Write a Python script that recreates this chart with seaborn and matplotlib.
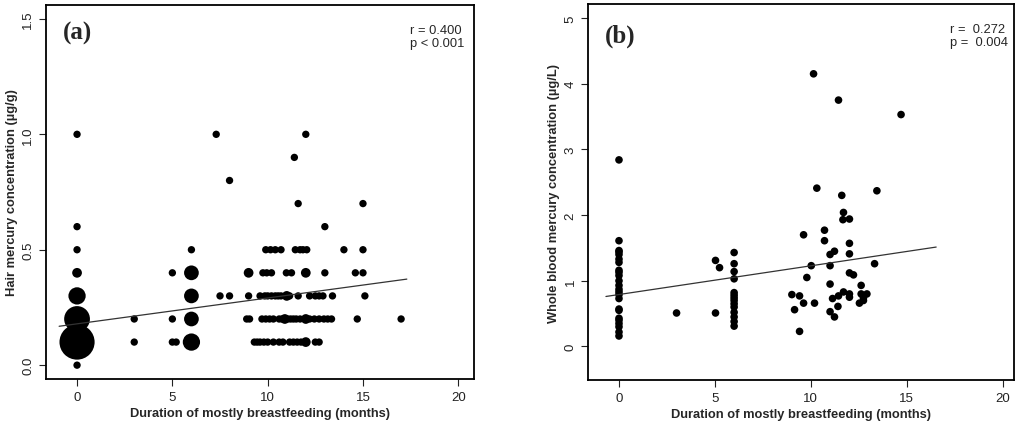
import numpy as np
import pandas as pd
import matplotlib
matplotlib.use("Agg")
import matplotlib.pyplot as plt
import seaborn as sns

# panel (a): hair mercury, bubble size = number of children at that point
hair_months = [0, 7.3, 12.0,
               11.4,
               8.0,
               11.6, 15.0,
               0, 13.0,
               0, 6, 9.9, 10.15, 10.4, 10.7, 11.45, 11.7, 11.85, 12.05, 14.0, 15.0,
               0, 5, 6, 9.0, 9.75, 9.95, 10.2, 10.98, 11.25, 12.0, 13.0, 14.6, 15.0,
               0, 6, 7.5, 8.0, 9.0, 9.6, 9.85, 10.0, 10.2, 10.4, 10.55, 10.7, 11.0,
               11.15, 11.6, 12.2, 12.5, 12.7, 12.9, 13.4, 15.1,
               0, 3, 5, 6, 8.9, 9.05, 9.7, 9.9, 10.1, 10.3, 10.6, 10.75, 10.9, 11.05,
               11.2, 11.35, 11.5, 11.7, 12.0, 12.2, 12.45, 12.7, 12.95, 13.15, 13.35,
               14.7, 17.0,
               0, 3, 5.0, 5.2, 6, 9.3, 9.45, 9.6, 9.8, 10.0, 10.3, 10.6, 10.8, 11.15,
               11.35, 11.55, 11.75, 12.0, 12.5, 12.7,
               0]
hair_hg = ([1.0] * 3 + [0.9] + [0.8] + [0.7] * 2 + [0.6] * 2 + [0.5] * 12
           + [0.4] * 13 + [0.3] * 21 + [0.2] * 27 + [0.1] * 20 + [0.0])
hair_count = [1, 1, 1,
              1,
              1,
              1, 1,
              1, 1,
              1, 1, 1, 1, 1, 1, 1, 1, 1, 1, 1, 1,
              2, 1, 5, 2, 1, 1, 1, 1, 1, 2, 1, 1, 1,
              7, 5, 1, 1, 1, 1, 1, 1, 1, 1, 1, 1, 2, 1, 1, 1, 1, 1, 1, 1, 1,
              16, 1, 1, 5, 1, 1, 1, 1, 1, 1, 1, 1, 2, 1, 1, 1, 1, 1, 2, 1, 1,
              1, 1, 1, 1, 1, 1,
              30, 1, 1, 1, 7, 1, 1, 1, 1, 1, 1, 1, 1, 1, 1, 1, 1, 2, 1, 1,
              1]

# panel (b): whole blood mercury
blood_months = ([0] * 24 + [3, 5.03, 5.24, 5.03] + [6] * 14 +
                [10.14, 11.44, 14.70, 10.31, 13.44, 11.61, 11.70, 11.67, 12.01,
                 10.71, 9.62, 10.71, 12.01, 11.23, 11.0, 12.01, 10.02, 11.0, 13.32,
                 12.01, 12.22, 9.79, 11.0, 12.62, 9.01, 9.41, 11.70, 11.44, 12.01,
                 12.01, 12.62, 12.92, 12.74, 11.13, 9.62, 10.19, 12.53, 12.74, 9.15,
                 11.41, 11.0, 11.23, 9.41])
blood_hg = ([2.84, 1.61, 1.46, 1.44, 1.40, 1.33, 1.28, 1.16, 1.13, 1.08, 1.00, 0.93,
             0.87, 0.83, 0.79, 0.73, 0.57, 0.55, 0.43, 0.40, 0.35, 0.30, 0.22, 0.16]
            + [0.51, 1.31, 1.20, 0.51]
            + [1.43, 1.26, 1.14, 1.03, 0.82, 0.78, 0.74, 0.70, 0.65, 0.60, 0.52, 0.45,
               0.38, 0.31]
            + [4.15, 3.75, 3.53, 2.41, 2.37, 2.30, 2.04, 1.93, 1.94, 1.77, 1.70, 1.61,
               1.57, 1.45, 1.40, 1.41, 1.23, 1.23, 1.26, 1.12, 1.09, 1.05, 0.95, 0.93,
               0.79, 0.77, 0.83, 0.77, 0.80, 0.75, 0.80, 0.80, 0.74, 0.73, 0.66, 0.66,
               0.66, 0.70, 0.56, 0.61, 0.53, 0.45, 0.23])

# fitted lines: intercept, slope, x range
fit_a = (0.179, 0.0112, -0.94, 17.3)
fit_b = (0.791, 0.0437, -0.68, 16.53)

stats_a = "r = 0.400\np < 0.001"
stats_b = "r =  0.272\np =  0.004"
xlab = "Duration of mostly breastfeeding (months)"

sns.set_style("ticks")
plt.rcParams["font.family"] = ["Liberation Sans", "DejaVu Sans"]

df_a = pd.DataFrame({"m": hair_months, "hg": hair_hg, "n": hair_count})
df_b = pd.DataFrame({"m": blood_months, "hg": blood_hg})

fig = plt.figure(figsize=(10.24, 4.31), dpi=100)
ax1 = fig.add_axes([0.0449, 0.1183, 0.4181, 0.8677])
ax2 = fig.add_axes([0.5745, 0.116, 0.416, 0.872])

sns.scatterplot(data=df_a, x="m", y="hg", size="n", sizes=(28, 640),
                size_norm=(1, 30), color="black", edgecolor="none",
                legend=False, ax=ax1)
sns.scatterplot(data=df_b, x="m", y="hg", s=30, color="black",
                edgecolor="none", legend=False, ax=ax2)

for ax, fit in [(ax1, fit_a), (ax2, fit_b)]:
    b0, b1, x0, x1 = fit
    xs = np.array([x0, x1])
    sns.lineplot(x=xs, y=b0 + b1 * xs, color="#333333", lw=0.9, ax=ax)

ax1.set_xlim(-1.63, 20.83)
ax1.set_ylim(-0.06, 1.56)
ax1.set_yticks([0, 0.5, 1.0, 1.5])
ax1.set_yticklabels(["0.0", "0.5", "1.0", "1.5"])
ax2.set_xlim(-1.6, 20.6)
ax2.set_ylim(-0.51, 5.21)
ax2.set_yticks([0, 1, 2, 3, 4, 5])

for ax in (ax1, ax2):
    ax.set_xticks([0, 5, 10, 15, 20])
    ax.tick_params(axis="both", labelsize=9.5, length=5, width=0.8,
                   colors="#222222", direction="out")
    ax.tick_params(axis="y", labelrotation=90)
    for t in ax.get_yticklabels():
        t.set_va("center")
    for sp in ax.spines.values():
        sp.set_visible(True)
        sp.set_linewidth(1.3)
        sp.set_color("black")
    ax.set_xlabel(xlab, fontsize=9.3, fontweight="bold", labelpad=3)

ax1.set_ylabel("Hair mercury concentration (\u00b5g/g)", fontsize=9.3,
               fontweight="bold", labelpad=3)
ax2.set_ylabel("Whole blood mercury concentration (\u00b5g/L)", fontsize=9.3,
               fontweight="bold", labelpad=3)

ax1.text(0.04, 0.928, "(a)", transform=ax1.transAxes, fontsize=18,
         fontweight="bold", family=["Liberation Serif", "DejaVu Serif"],
         va="center", ha="left")
ax2.text(0.038, 0.916, "(b)", transform=ax2.transAxes, fontsize=18,
         fontweight="bold", family=["Liberation Serif", "DejaVu Serif"],
         va="center", ha="left")
ax1.text(0.85, 0.95, stats_a, transform=ax1.transAxes, fontsize=9.3,
         va="top", ha="left", linespacing=1.15)
ax2.text(0.85, 0.95, stats_b, transform=ax2.transAxes, fontsize=9.3,
         va="top", ha="left", linespacing=1.15)

fig.savefig("out.png", dpi=100)
